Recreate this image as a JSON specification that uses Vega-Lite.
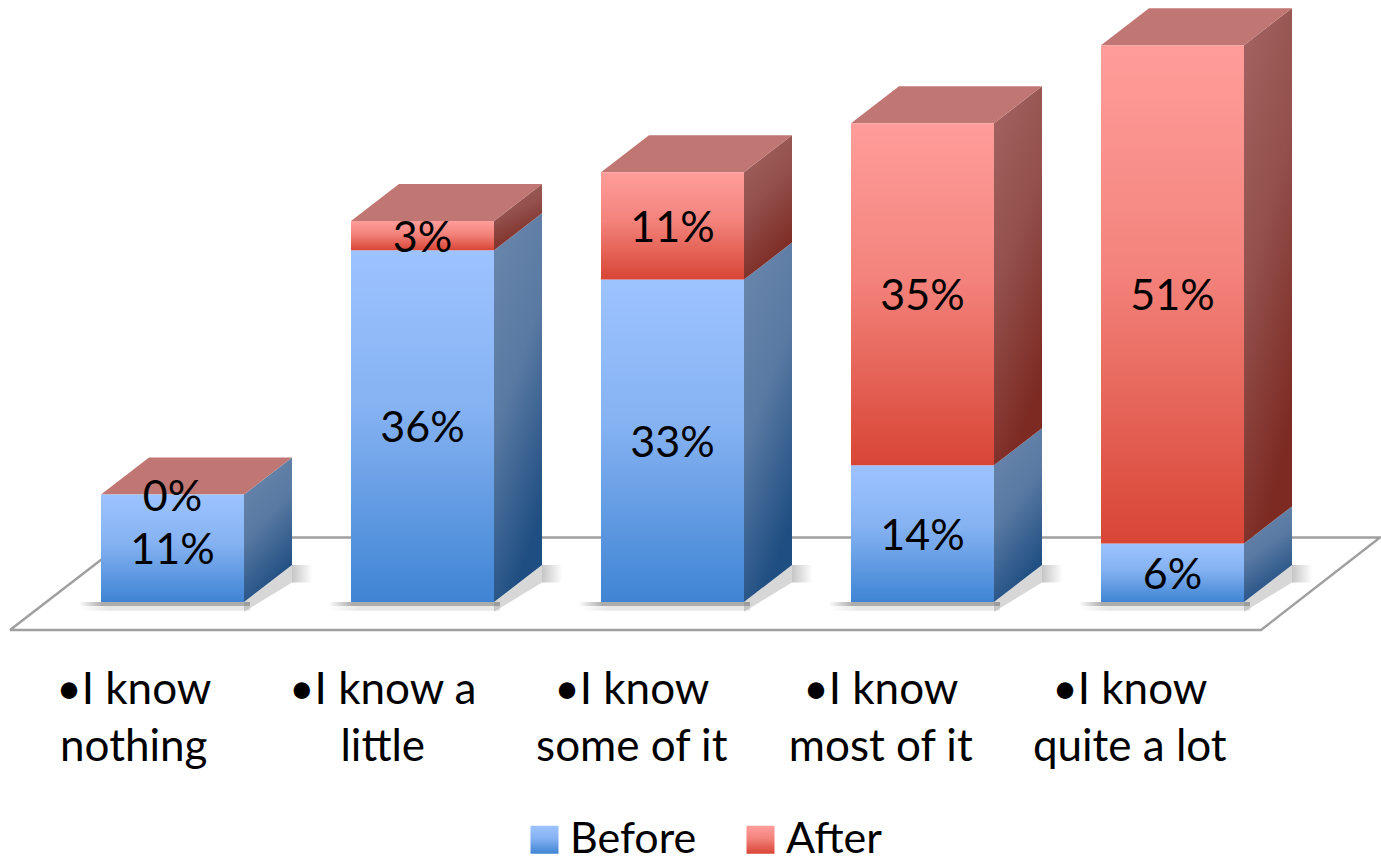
{
"$schema":"https://vega.github.io/schema/vega-lite/v6.json",
"width":1381,"height":857,"padding":0,"autosize":"none","background":"white",
"config":{"view":{"stroke":null}},
"datasets":{
"bars":[
{"level":0,"category":"•I know\nnothing","series":"Before","value":11},
{"level":0,"category":"•I know\nnothing","series":"After","value":0},
{"level":1,"category":"•I know a\nlittle","series":"Before","value":36},
{"level":1,"category":"•I know a\nlittle","series":"After","value":3},
{"level":2,"category":"•I know\nsome of it","series":"Before","value":33},
{"level":2,"category":"•I know\nsome of it","series":"After","value":11},
{"level":3,"category":"•I know\nmost of it","series":"Before","value":14},
{"level":3,"category":"•I know\nmost of it","series":"After","value":35},
{"level":4,"category":"•I know\nquite a lot","series":"Before","value":6},
{"level":4,"category":"•I know\nquite a lot","series":"After","value":51}
],
"floor":[
{"corner":1,"lx":-0.65,"pct":-2.866},
{"corner":2,"lx":4.354,"pct":-2.866},
{"corner":3,"lx":4.83,"pct":6.6},
{"corner":4,"lx":-0.17,"pct":6.6},
{"corner":5,"lx":-0.65,"pct":-2.866}
]},
"layer":[
{"data":{"name":"floor"},
 "mark":{"type":"line","stroke":"#a0a0a0","strokeWidth":2.5,"clip":true},
 "encoding":{
  "x":{"field":"lx","type":"quantitative","scale":{"domain":[-0.69,4.834],"nice":false,"zero":false},"axis":null},
  "y":{"field":"pct","type":"quantitative","scale":{"domain":[-26.1,61.62],"nice":false,"zero":false},"axis":null},
  "order":{"field":"corner","type":"ordinal"}}},
{"data":{"name":"bars"},
 "transform":[{"filter":"datum.series=='Before'"},
  {"calculate":"datum.level-0.376","as":"a"},{"calculate":"datum.level+0.31","as":"b"},
  {"calculate":"0","as":"c"},{"calculate":"-0.4","as":"d"}],
 "mark":{"type":"rect","color":{"gradient":"linear","x1":0,"y1":0,"x2":1,"y2":0,"stops":[{"offset":0,"color":"rgba(90,90,90,0)"},{"offset":0.14,"color":"rgba(90,90,90,0.5)"},{"offset":1,"color":"rgba(90,90,90,0.5)"}]}},
 "encoding":{"x":{"field":"a","type":"quantitative"},"x2":{"field":"b"},"y":{"field":"c","type":"quantitative"},"y2":{"field":"d"}}},
{"data":{"name":"bars"},
 "transform":[{"filter":"datum.series=='Before'"},
  {"calculate":"datum.level-0.366","as":"a"},{"calculate":"datum.level+0.31","as":"b"},
  {"calculate":"-0.4","as":"c"},{"calculate":"-0.9","as":"d"}],
 "mark":{"type":"rect","color":{"gradient":"linear","x1":0,"y1":0,"x2":1,"y2":0,"stops":[{"offset":0,"color":"rgba(90,90,90,0)"},{"offset":0.16,"color":"rgba(90,90,90,0.14)"},{"offset":1,"color":"rgba(90,90,90,0.14)"}]}},
 "encoding":{"x":{"field":"a","type":"quantitative"},"x2":{"field":"b"},"y":{"field":"c","type":"quantitative"},"y2":{"field":"d"}}},
{"data":{"name":"bars"},
 "transform":[{"filter":"datum.series=='Before'"},
  {"calculate":"0","as":"near"},{"calculate":"1","as":"far"},
  {"fold":["near","far"],"as":["edge","depth"]},
  {"calculate":"datum.level+0.286+datum.depth*0.192","as":"sx"},
  {"calculate":"-1+datum.depth*3.0","as":"slo"},
  {"calculate":"datum.depth*3.787","as":"shi"}],
 "mark":{"type":"area","color":"#7a7a7a","opacity":0.3},
 "encoding":{"x":{"field":"sx","type":"quantitative"},"y":{"field":"slo","type":"quantitative"},"y2":{"field":"shi"},"detail":{"field":"level"}}},
{"data":{"name":"bars"},
 "transform":[{"filter":"datum.series=='Before'"},
  {"calculate":"datum.level+0.478","as":"a"},{"calculate":"datum.level+0.56","as":"b"},
  {"calculate":"2","as":"c"},{"calculate":"3.787","as":"d"}],
 "mark":{"type":"rect","color":{"gradient":"linear","x1":0,"y1":0,"x2":1,"y2":0,"stops":[{"offset":0,"color":"rgba(90,90,90,0.35)"},{"offset":1,"color":"rgba(90,90,90,0)"}]}},
 "encoding":{"x":{"field":"a","type":"quantitative"},"x2":{"field":"b"},"y":{"field":"c","type":"quantitative"},"y2":{"field":"d"}}},
{"data":{"name":"bars"},
 "transform":[
  {"stack":"value","groupby":["level"],"sort":[{"field":"series","order":"descending"}],"as":["y0","y1"]},
  {"calculate":"0","as":"near"},{"calculate":"1","as":"far"},
  {"fold":["near","far"],"as":["edge","depth"]},
  {"calculate":"datum.level+0.286+datum.depth*0.192","as":"sx"},
  {"calculate":"datum.y0+datum.depth*3.787","as":"slo"},
  {"calculate":"datum.y1+datum.depth*3.787","as":"shi"},
  {"filter":"datum.value>0 && datum.series=='Before'"}],
 "mark":{"type":"area","color":{"gradient":"linear","x1":0,"y1":0,"x2":0.35,"y2":1,"stops":[{"offset":0,"color":"#6b87ad"},{"offset":0.5,"color":"#5a7aa3"},{"offset":1,"color":"#1f4e82"}]}},
 "encoding":{
  "x":{"field":"sx","type":"quantitative"},
  "y":{"field":"slo","type":"quantitative"},
  "y2":{"field":"shi"},
  "detail":{"field":"level"}}},
{"data":{"name":"bars"},
 "transform":[
  {"stack":"value","groupby":["level"],"sort":[{"field":"series","order":"descending"}],"as":["y0","y1"]},
  {"calculate":"0","as":"near"},{"calculate":"1","as":"far"},
  {"fold":["near","far"],"as":["edge","depth"]},
  {"calculate":"datum.level+0.286+datum.depth*0.192","as":"sx"},
  {"calculate":"datum.y0+datum.depth*3.787","as":"slo"},
  {"calculate":"datum.y1+datum.depth*3.787","as":"shi"},
  {"filter":"datum.value>0 && datum.series=='After'"}],
 "mark":{"type":"area","color":{"gradient":"linear","x1":0,"y1":0,"x2":0.35,"y2":1,"stops":[{"offset":0,"color":"#a46462"},{"offset":0.5,"color":"#93504c"},{"offset":1,"color":"#7c2a22"}]}},
 "encoding":{
  "x":{"field":"sx","type":"quantitative"},
  "y":{"field":"slo","type":"quantitative"},
  "y2":{"field":"shi"},
  "detail":{"field":"level"}}},
{"data":{"name":"bars"},
 "transform":[
  {"stack":"value","groupby":["level"],"sort":[{"field":"series","order":"descending"}],"as":["y0","y1"]},
  {"filter":"datum.series=='After'"},
  {"calculate":"0","as":"near"},{"calculate":"1","as":"far"},
  {"fold":["near","far"],"as":["edge","depth"]},
  {"calculate":"datum.level-0.286+datum.depth*0.192","as":"tl"},
  {"calculate":"datum.level+0.286+datum.depth*0.192","as":"tr"},
  {"calculate":"datum.y1+datum.depth*3.787","as":"ty"}],
 "mark":{"type":"area","orient":"horizontal","color":"#c07672"},
 "encoding":{
  "y":{"field":"ty","type":"quantitative"},
  "x":{"field":"tl","type":"quantitative"},
  "x2":{"field":"tr"},
  "detail":{"field":"level"}}},
{"data":{"name":"bars"},
 "transform":[
  {"stack":"value","groupby":["level"],"sort":[{"field":"series","order":"descending"}],"as":["y0","y1"]},
  {"calculate":"datum.level-0.286","as":"xl"},
  {"calculate":"datum.level+0.286","as":"xr"}],
 "mark":{"type":"rect"},
 "encoding":{
  "x":{"field":"xl","type":"quantitative"},
  "x2":{"field":"xr"},
  "y":{"field":"y0","type":"quantitative"},
  "y2":{"field":"y1"},
  "color":{"field":"series","type":"nominal",
   "scale":{"domain":["Before","After"],"range":[
    {"expr":"{gradient:'linear',x1:0,y1:0,x2:0,y2:1,stops:[{offset:0,color:'#9dc3ff'},{offset:0.45,color:'#85b2f2'},{offset:1,color:'#3f84d3'}]}"},
    {"expr":"{gradient:'linear',x1:0,y1:0,x2:0,y2:1,stops:[{offset:0,color:'#ff9d9a'},{offset:0.45,color:'#f3837c'},{offset:1,color:'#d84535'}]}"}]},
   "legend":{"title":null,"orient":"none","legendX":523,"legendY":818,"direction":"horizontal","symbolType":"square","symbolSize":784,"symbolStrokeWidth":0,"labelFont":"Lato","labelFontSize":43,"labelColor":"black","columnPadding":42,"labelOffset":4,"labelLimit":300,"symbolOpacity":1}}}},
{"data":{"name":"bars"},
 "transform":[
  {"stack":"value","groupby":["level"],"sort":[{"field":"series","order":"descending"}],"as":["y0","y1"]},
  {"calculate":"(datum.y0+datum.y1)/2","as":"mid"},
  {"calculate":"datum.value+'%'","as":"lab"}],
 "mark":{"type":"text","font":"Lato","fontSize":43,"color":"black","align":"center","baseline":"middle","dy":3},
 "encoding":{
  "x":{"field":"level","type":"quantitative"},
  "y":{"field":"mid","type":"quantitative"},
  "text":{"field":"lab"}}},
{"data":{"name":"bars"},
 "transform":[{"filter":"datum.series=='Before'"},
  {"calculate":"datum.level*0.996-0.155","as":"cx"},
  {"calculate":"-6.82","as":"cy"}],
 "mark":{"type":"text","font":"Lato","fontSize":44,"color":"black","align":"center","baseline":"top","lineBreak":"\n","lineHeight":57},
 "encoding":{
  "x":{"field":"cx","type":"quantitative"},
  "y":{"field":"cy","type":"quantitative"},
  "text":{"field":"category"}}}
]
}
